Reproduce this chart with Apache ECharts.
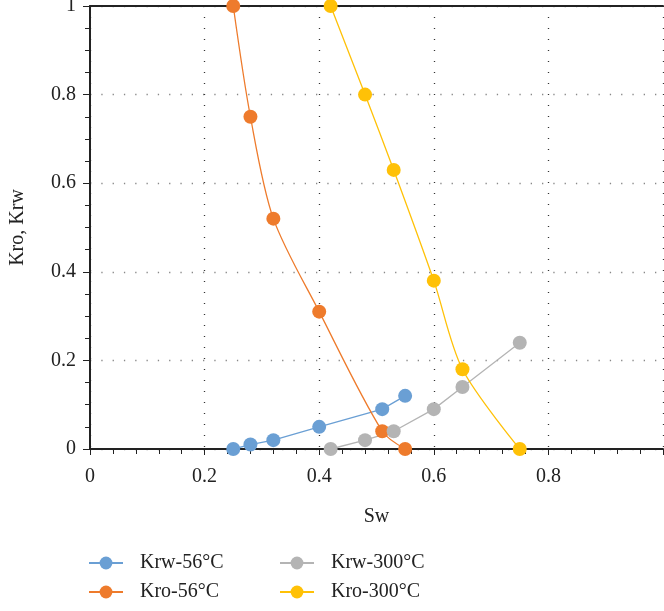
<!DOCTYPE html>
<html>
<head>
<meta charset="utf-8">
<style>
html, body { margin: 0; padding: 0; background: #fff; }
#main { width: 664px; height: 611px; }
</style>
<script src="https://cdn.jsdelivr.net/npm/echarts@6/dist/echarts.min.js"></script>
</head>
<body>
<div id="main"></div>
<script>
// Sw values for each curve
var swAt56 = [0.25, 0.28, 0.32, 0.40, 0.51, 0.55];
var swAt300 = [0.42, 0.48, 0.53, 0.60, 0.65, 0.75];
// relative permeabilities
var krw56 = [0, 0.01, 0.02, 0.05, 0.09, 0.12];
var kro56 = [1, 0.75, 0.52, 0.31, 0.04, 0];
var krw300 = [0, 0.02, 0.04, 0.09, 0.14, 0.24];
var kro300 = [1, 0.8, 0.63, 0.38, 0.18, 0];

var serif = '"Liberation Serif", "DejaVu Serif", serif';

function pairs(xs, ys) {
  var out = [];
  for (var i = 0; i < xs.length; i++) out.push([xs[i], ys[i]]);
  return out;
}

function mkSeries(name, xs, ys, color, smooth) {
  return {
    name: name,
    type: 'line',
    xAxisIndex: 0,
    smooth: smooth ? 0.3 : false,
    symbol: 'circle',
    symbolSize: 14,
    lineStyle: { width: 1.3, color: color },
    itemStyle: { color: color },
    data: pairs(xs, ys),
    z: 3
  };
}

var legendText = { fontFamily: serif, fontSize: 20, color: '#222', padding: [0, 0, 0, 12] };

var option = {
  backgroundColor: '#fff',
  animation: false,
  legend: [{
    orient: 'vertical',
    left: 88,
    top: 553,
    height: 58,
    padding: 0,
    itemWidth: 34,
    itemHeight: 16,
    itemGap: 9,
    textStyle: legendText,
    data: ['Krw-56°C', 'Kro-56°C']
  }, {
    orient: 'vertical',
    left: 279,
    top: 553,
    height: 58,
    padding: 0,
    itemWidth: 34,
    itemHeight: 16,
    itemGap: 9,
    textStyle: legendText,
    data: ['Krw-300°C', 'Kro-300°C']
  }],
  grid: { left: 90, right: 1, top: 6, bottom: 162, outerBoundsMode: 'none' },
  xAxis: [{
    type: 'value',
    min: 0,
    max: 1,
    interval: 0.2,
    name: 'Sw',
    nameLocation: 'middle',
    nameGap: 58,
    nameTextStyle: { fontFamily: serif, fontSize: 20, color: '#222' },
    axisLine: { show: true, onZero: false, lineStyle: { color: '#222', width: 2 } },
    axisTick: { show: true, length: 6, lineStyle: { color: '#222' } },
    minorTick: { show: true, splitNumber: 5, length: 5, lineStyle: { color: '#222' } },
    axisLabel: { fontFamily: serif, fontSize: 20, color: '#222', margin: 18, showMaxLabel: false },
    splitLine: { show: true, lineStyle: { color: '#333', type: [1, 10], width: 1.3 } }
  }, {
    type: 'value',
    position: 'top',
    min: 0,
    max: 1,
    axisLine: { show: true, onZero: false, lineStyle: { color: '#222', width: 2 } },
    axisTick: { show: false },
    axisLabel: { show: false },
    splitLine: { show: false }
  }],
  yAxis: {
    type: 'value',
    min: 0,
    max: 1,
    interval: 0.2,
    name: 'Kro, Krw',
    nameLocation: 'middle',
    nameGap: 62,
    nameTextStyle: { fontFamily: serif, fontSize: 20, color: '#222' },
    axisLine: { show: true, onZero: false, lineStyle: { color: '#222', width: 2 } },
    axisTick: { show: true, length: 7, lineStyle: { color: '#222' } },
    minorTick: { show: true, splitNumber: 4, length: 5, lineStyle: { color: '#222' } },
    axisLabel: { fontFamily: serif, fontSize: 20, color: '#222', margin: 14 },
    splitLine: { show: true, lineStyle: { color: '#888', type: [1.3, 10], width: 1.3 } }
  },
  series: [
    mkSeries('Krw-56°C', swAt56, krw56, '#6A9FD4', false),
    mkSeries('Kro-56°C', swAt56, kro56, '#EE7B2C', true),
    mkSeries('Krw-300°C', swAt300, krw300, '#B4B4B4', false),
    mkSeries('Kro-300°C', swAt300, kro300, '#FFC107', true)
  ]
};

var myChart = echarts.init(document.getElementById('main'));
myChart.setOption(option);
</script>
</body>
</html>
